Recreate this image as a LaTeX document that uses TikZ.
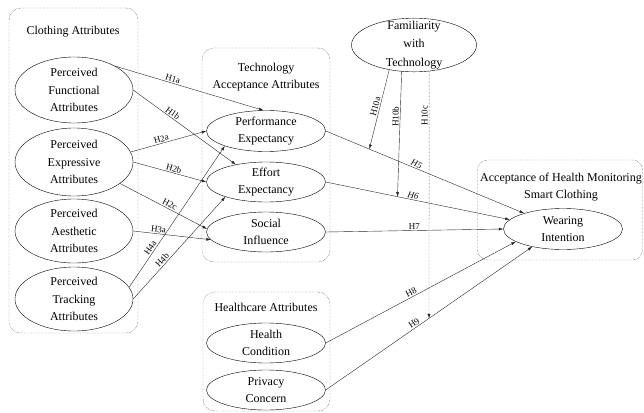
\documentclass[tikz,border=0pt]{standalone}
\usepackage{fontspec}
\setmainfont{Liberation Serif}
\usetikzlibrary{shapes.geometric, arrows.meta}
\tikzset{ att/.style = { ellipse
                       , draw
                       , thin
                       , inner sep    = 0pt
                       , inner ysep   = -1pt
                       , align        = center
                       , font         = \fontsize{12}{17.5}\selectfont
                       },
          grp/.style = { draw = black!85
                       , densely dotted
                       , thin
                       , rounded corners = 12pt
                       , inner sep    = 0pt
                       },
          ttl/.style = { align        = center
                       , inner sep    = 0pt
                       , font         = \fontsize{12}{17}\selectfont
                       },
          lnk/.style = { draw = black!85
                       , thin
                       , -{Latex[length=4.5pt, width=3pt]}
                       },
          hyp/.style = { sloped
                       , above
                       , inner sep    = 1.2pt
                       , font         = \fontsize{9}{10}\selectfont
                       }
        }
\begin{document}
\begin{tikzpicture}[x=1pt, y=-1pt]
    \useasboundingbox (0,0) rectangle (644,412);
    % groups
    \node[grp, minimum width=129pt, minimum height=325pt] (cloth) at (73.5,170.5) {};
    \node[grp, minimum width=128pt, minimum height=214pt] (tech)  at (266,155) {};
    \node[grp, minimum width=127pt, minimum height=119pt] (care)  at (266.5,351.5) {};
    \node[grp, minimum width=165pt, minimum height=100pt, rounded corners=10pt] (accept) at (560,210) {};
    \node[ttl] (clothT)  at (73,32)   {Clothing Attributes};
    \node[ttl] (techT)   at (266,77)  {Technology\\Acceptance Attributes};
    \node[ttl] (careT)   at (266,307) {Healthcare Attributes};
    \node[ttl] (acceptT) at (561,187) {Acceptance of Health Monitoring\\Smart Clothing};
    % constructs
    \node[att, minimum width=118pt, minimum height=66pt] (pfa) at (74,90)  {Perceived\\Functional\\Attributes};
    \node[att, minimum width=118pt, minimum height=68pt] (pea) at (74,162) {Perceived\\Expressive\\Attributes};
    \node[att, minimum width=118pt, minimum height=64pt] (paa) at (74,231) {Perceived\\Aesthetic\\Attributes};
    \node[att, minimum width=118pt, minimum height=64pt] (pta) at (74,299) {Perceived\\Tracking\\Attributes};
    \node[att, minimum width=119pt, minimum height=41pt] (pe)  at (266,131) {Performance\\Expectancy};
    \node[att, minimum width=119pt, minimum height=40pt] (ee)  at (266,182) {Effort\\Expectancy};
    \node[att, minimum width=119pt, minimum height=40pt] (si)  at (266,232) {Social\\Influence};
    \node[att, minimum width=119pt, minimum height=40pt] (hc)  at (266,343) {Health\\Condition};
    \node[att, minimum width=119pt, minimum height=40pt] (pc)  at (266,390) {Privacy\\Concern};
    \node[att, minimum width=125pt, minimum height=53pt, inner ysep=-5pt,
          font=\fontsize{12}{18.5}\selectfont] (fam) at (414,45) {Familiarity\\with\\Technology};
    \node[att, minimum width=119pt, minimum height=41pt] (wi)  at (563,229) {Wearing\\Intention};
    % hypotheses
    \draw[lnk] (pfa.30)   -- node[hyp, pos=.38] {H1a} (pe.97);
    \draw[lnk] (pfa.east) -- node[hyp, pos=.36] {H1b} (ee.150);
    \draw[lnk] (pea.10)   -- node[hyp, pos=.42] {H2a} (pe.west);
    \draw[lnk] (pea.east) -- node[hyp, pos=.54] {H2b} (ee.west);
    \draw[lnk] (pea.-25)  -- node[hyp, pos=.55] {H2c} (si.177);
    \draw[lnk] (paa.east) -- node[hyp, pos=.32] {H3a} (si.188);
    \draw[lnk] (pta.12)   -- node[hyp, pos=.26] {H4a} (pe.200);
    \draw[lnk] (pta.east) -- node[hyp, pos=.35] {H4b} (ee.200);
    \draw[lnk] (pe.east)  -- node[hyp, pos=.45, font=\fontsize{9}{10}\selectfont\itshape] {H5}
                             coordinate[pos=.22] (m5) (wi.158);
    \draw[lnk] (ee.east)  -- node[hyp, pos=.47, font=\fontsize{9}{10}\selectfont\itshape] {H6}
                             coordinate[pos=.39] (m6) (wi.170);
    \draw[lnk] (si.east)  -- node[hyp, pos=.5]  {H7} (wi.west);
    \draw[lnk] (hc.east)  -- node[hyp, pos=.46] {H8} (wi.195);
    \draw[lnk] (pc.east)  -- node[hyp, pos=.44] {H9}
                             coordinate[pos=.5] (m9) (wi.210);
    % moderation
    \draw[lnk] (fam.225) -- node[hyp, pos=.48] {H10a} (m5);
    \draw[lnk] (fam.245) -- node[hyp, pos=.36] {H10b} (m6);
    \draw[lnk, draw=black!90, densely dotted] (fam.300) -- node[hyp, pos=.18] {H10c} (m9);
\end{tikzpicture}
\end{document}
